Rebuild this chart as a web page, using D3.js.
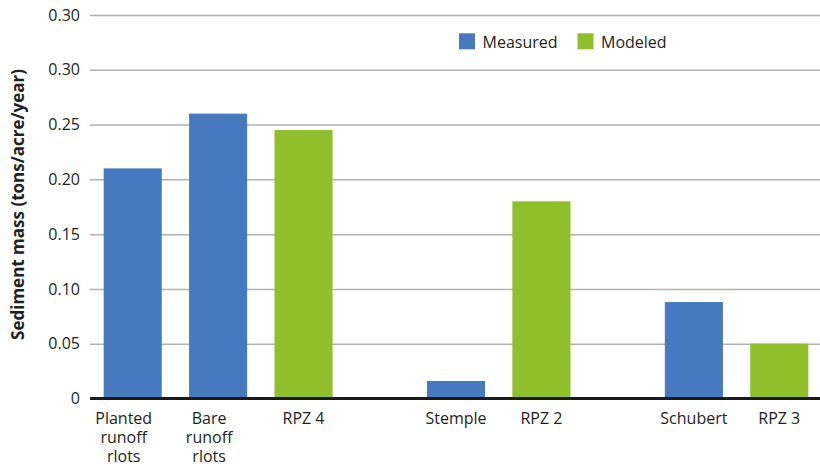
<!DOCTYPE html>
<html>
<head>
<meta charset="utf-8">
<script src="https://cdn.jsdelivr.net/npm/d3@7"></script>
<style>
  html, body { margin: 0; padding: 0; background: #fff; }
  svg { display: block; font-family: "Open Sans", "Noto Sans", sans-serif; }
</style>
</head>
<body>
<svg id="chart" width="820" height="468"></svg>
<script>
// ---- Data ----
const categories = ["Planted\nrunoff\nrlots", "Bare\nrunoff\nrlots", "RPZ 4", "Stemple", "RPZ 2", "Schubert", "RPZ 3"];
const groups = [0, 0, 0, 1, 1, 2, 2];
const seriesOf = ["Measured", "Measured", "Modeled", "Measured", "Modeled", "Measured", "Modeled"];
const values = [0.21, 0.26, 0.245, 0.016, 0.18, 0.088, 0.05];
const seriesNames = ["Measured", "Modeled"];
const tickValues = [0, 0.05, 0.10, 0.15, 0.20, 0.25, 0.30, 0.35];
const tickLabels = ["0", "0.05", "0.10", "0.15", "0.20", "0.25", "0.30", "0.30"];
const yTitle = "Sediment mass (tons/acre/year)";

// ---- Layout ----
const svg = d3.select("#chart");
const plotLeft = 90, plotRight = 822, plotTop = 15, plotBottom = 398.5;
const gapUnits = 0.785, barFrac = 0.68;
const color = d3.scaleOrdinal().domain(seriesNames).range(["#4679bd", "#8fc02c"]);

const slots = categories.map((c, i) => i + groups[i] * gapUnits);
const totalUnits = categories.length + (d3.max(groups)) * gapUnits;
const x = d3.scaleLinear().domain([0, totalUnits]).range([plotLeft, plotRight]);
const y = d3.scaleLinear().domain([0, 0.35]).range([plotBottom, plotTop]);

// gridlines + y tick labels
const yAxis = d3.axisLeft(y)
  .tickValues(tickValues)
  .tickSize(-(820 - plotLeft))
  .tickPadding(10)
  .tickFormat((d, i) => tickLabels[i]);
const gy = svg.append("g").attr("transform", `translate(${plotLeft},0)`).call(yAxis);
gy.select(".domain").remove();
gy.selectAll(".tick line").attr("stroke", "#b3b3b3").attr("stroke-width", 1.5);
gy.selectAll(".tick text").attr("font-size", 16).attr("fill", "#231f20")
  .attr("font-family", "'Open Sans', sans-serif");

// bars
const barW = x(barFrac) - x(0);
svg.append("g").selectAll("rect").data(values).join("rect")
  .attr("x", (d, i) => x(slots[i] + 0.5) - barW / 2)
  .attr("width", barW)
  .attr("y", d => y(d))
  .attr("height", d => y(0) - y(d))
  .attr("fill", (d, i) => color(seriesOf[i]));

// baseline
svg.append("line")
  .attr("x1", plotLeft).attr("x2", 820)
  .attr("y1", y(0)).attr("y2", y(0))
  .attr("stroke", "#1a1a1a").attr("stroke-width", 3);

// x labels
const xl = svg.append("g").selectAll("text").data(categories).join("text")
  .attr("font-size", 16).attr("fill", "#231f20")
  .attr("text-anchor", "middle")
  .attr("transform", (d, i) => {
    const lines = d.split("\n").length;
    const dx = lines > 1 ? -9 : 0;
    return `translate(${x(slots[i] + 0.5) + dx},${y(0) + 25.5})`;
  });
xl.each(function(d) {
  const t = d3.select(this);
  d.split("\n").forEach((line, k) => {
    t.append("tspan").attr("x", 0).attr("y", k * 19).text(line);
  });
});

// y title
svg.append("text")
  .attr("transform", `translate(24,204.5) rotate(-90)`)
  .attr("text-anchor", "middle")
  .attr("font-size", 17).attr("font-weight", "bold").attr("fill", "#231f20")
  .text(yTitle);

// legend
const legendX = [459, 577.5];
const lg = svg.append("g").selectAll("g").data(seriesNames).join("g")
  .attr("transform", (d, i) => `translate(${legendX[i]},33.3)`);
lg.append("rect").attr("width", 16).attr("height", 16).attr("fill", d => color(d));
lg.append("text").attr("x", 23.5).attr("y", 15).attr("font-size", 16)
  .attr("fill", "#231f20").text(d => d);
</script>
</body>
</html>
